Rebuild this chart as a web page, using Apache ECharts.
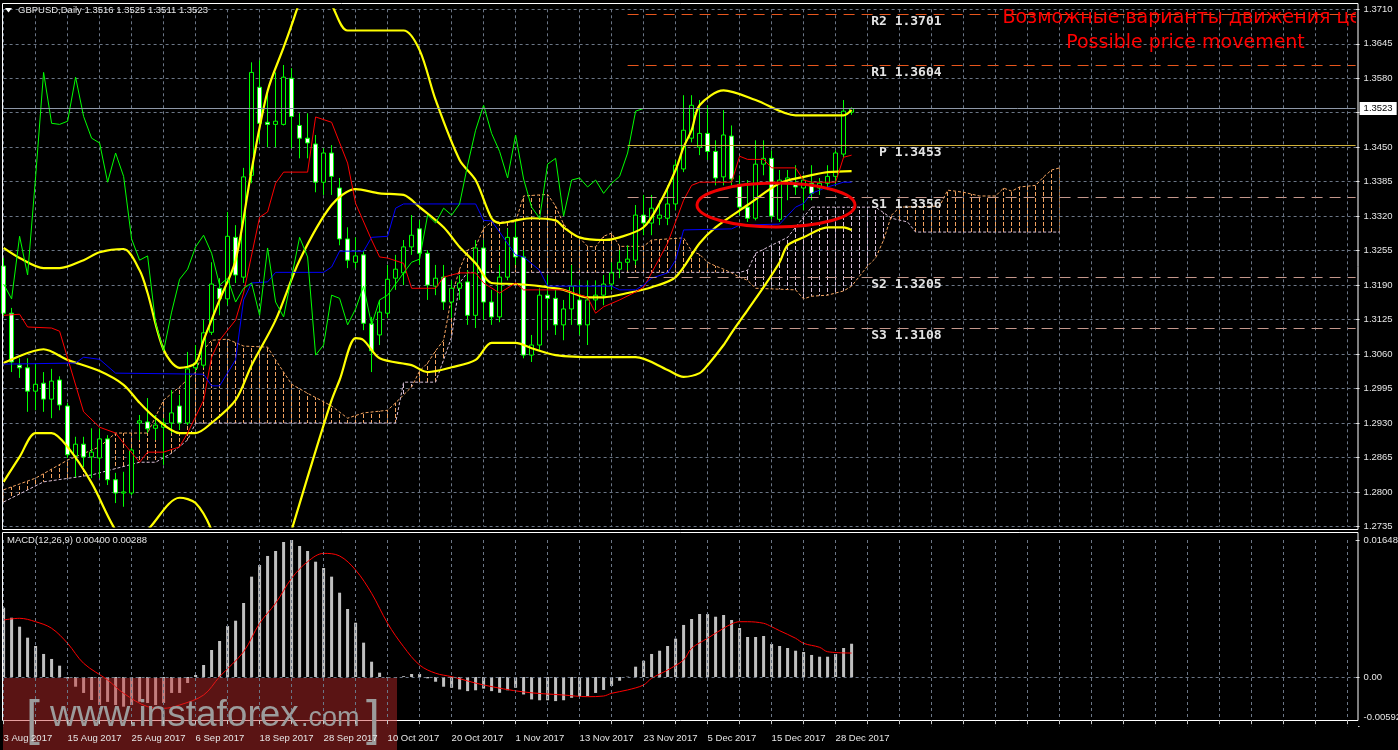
<!DOCTYPE html>
<html>
<head>
<meta charset="utf-8">
<title>GBPUSD Daily</title>
<script src="https://cdn.jsdelivr.net/npm/echarts@6.0.0/dist/echarts.min.js"></script>
<style>
html,body{margin:0;padding:0;background:#000;overflow:hidden;}
#chart{width:1398px;height:750px;}
</style>
</head>
<body>
<div id="chart"></div>
<script>
// ===================== DATA =====================
const HEADER_TEXT = 'GBPUSD,Daily 1.3516 1.3525 1.3511 1.3523';
const MACD_TEXT = 'MACD(12,26,9) 0.00400 0.00288';
const TITLE_RU = 'Возможные варианты движения цен';
const TITLE_EN = 'Possible price movement';

const TICK_LABELS = ['3 Aug 2017','15 Aug 2017','25 Aug 2017','6 Sep 2017','18 Sep 2017','28 Sep 2017',
  '10 Oct 2017','20 Oct 2017','1 Nov 2017','13 Nov 2017','23 Nov 2017','5 Dec 2017','15 Dec 2017','28 Dec 2017'];

const OPEN = [
1.3226,1.3137,1.3039,1.3034,1.2990,1.3005,1.2975,1.3011,1.2962,1.2868,
1.2890,1.2866,1.2864,1.2900,1.2823,1.2798,1.2798,1.2930,1.2932,1.2920,
1.2922,1.2930,1.2962,1.2930,1.3034,1.3039,1.3101,1.3184,1.3164,1.3280,
1.3205,1.3397,1.3563,1.3497,1.3493,1.3493,1.3580,1.3491,1.3467,1.3456,
1.3384,1.3439,1.3373,1.3277,1.3233,1.3247,1.3117,1.3096,1.3137,1.3203,
1.3213,1.3262,1.3296,1.3250,1.3188,1.3205,1.3158,1.3184,1.3196,1.3133,
1.3260,1.3158,1.3130,1.3205,1.3280,1.3243,1.3058,1.3077,1.3171,1.3165,
1.3115,1.3145,1.3162,1.3115,1.3162,1.3171,1.3192,1.3220,1.3233,1.3237,
1.3322,1.3307,1.3316,1.3316,1.3343,1.3409,1.3467,1.3450,1.3476,1.3442,
1.3394,1.3471,1.3380,1.3337,1.3316,1.3418,1.3429,1.3314,1.3388,1.3382,
1.3373,1.3382,1.3373,1.3382,1.3395,1.3437,1.3516];
const CLOSE = [
1.3137,1.3045,1.3034,1.2990,1.3003,1.2975,1.3009,1.2964,1.2870,1.2890,
1.2866,1.2875,1.2900,1.2823,1.2798,1.2800,1.2879,1.2934,1.2919,1.2926,
1.2930,1.2949,1.2930,1.3032,1.3043,1.3100,1.3192,1.3164,1.3282,1.3209,
1.3394,1.3591,1.3495,1.3493,1.3499,1.3582,1.3508,1.3467,1.3458,1.3384,
1.3439,1.3395,1.3277,1.3237,1.3245,1.3118,1.3066,1.3139,1.3201,1.3220,
1.3262,1.3284,1.3250,1.3190,1.3203,1.3158,1.3184,1.3194,1.3133,1.3260,
1.3158,1.3130,1.3205,1.3280,1.3243,1.3058,1.3077,1.3171,1.3165,1.3115,
1.3145,1.3188,1.3115,1.3162,1.3171,1.3192,1.3213,1.3233,1.3239,1.3322,
1.3307,1.3335,1.3322,1.3343,1.3416,1.3482,1.3529,1.3476,1.3442,1.3392,
1.3473,1.3390,1.3337,1.3316,1.3418,1.3429,1.3320,1.3388,1.3392,1.3375,
1.3388,1.3363,1.3382,1.3395,1.3439,1.3518,1.3523];
const LOW = [
1.3132,1.3026,1.3015,1.2951,1.2954,1.2951,1.2939,1.2954,1.2864,1.2828,
1.2847,1.2826,1.2826,1.2813,1.2779,1.2772,1.2794,1.2898,1.2911,1.2898,
1.2851,1.2911,1.2917,1.2926,1.3026,1.3034,1.3096,1.3133,1.3152,1.3194,
1.3194,1.3382,1.3459,1.3450,1.3450,1.3491,1.3448,1.3429,1.3429,1.3365,
1.3360,1.3360,1.3265,1.3222,1.3222,1.3105,1.3026,1.3077,1.3128,1.3181,
1.3190,1.3247,1.3228,1.3162,1.3171,1.3143,1.3128,1.3162,1.3115,1.3109,
1.3124,1.3115,1.3120,1.3199,1.3228,1.3052,1.3045,1.3068,1.3105,1.3096,
1.3086,1.3115,1.3096,1.3077,1.3143,1.3152,1.3181,1.3203,1.3218,1.3228,
1.3284,1.3284,1.3303,1.3303,1.3331,1.3403,1.3459,1.3435,1.3426,1.3378,
1.3378,1.3378,1.3322,1.3309,1.3312,1.3397,1.3314,1.3309,1.3350,1.3360,
1.3331,1.3350,1.3360,1.3369,1.3378,1.3431,1.3511];
const HIGH = [
1.3241,1.3147,1.3052,1.3052,1.3043,1.3026,1.3032,1.3018,1.2968,1.2904,
1.2904,1.2920,1.2920,1.2907,1.2836,1.2838,1.2883,1.2945,1.2977,1.2945,
1.2939,1.2992,1.2983,1.3064,1.3077,1.3124,1.3233,1.3203,1.3328,1.3303,
1.3411,1.3610,1.3614,1.3552,1.3591,1.3605,1.3599,1.3514,1.3514,1.3473,
1.3448,1.3454,1.3392,1.3299,1.3280,1.3256,1.3130,1.3162,1.3228,1.3247,
1.3275,1.3322,1.3312,1.3256,1.3228,1.3228,1.3199,1.3209,1.3218,1.3275,
1.3275,1.3181,1.3228,1.3297,1.3309,1.3256,1.3096,1.3184,1.3209,1.3181,
1.3162,1.3228,1.3199,1.3199,1.3199,1.3209,1.3233,1.3256,1.3265,1.3341,
1.3360,1.3360,1.3350,1.3378,1.3426,1.3548,1.3548,1.3539,1.3529,1.3463,
1.3520,1.3491,1.3397,1.3388,1.3463,1.3463,1.3444,1.3407,1.3407,1.3416,
1.3397,1.3416,1.3392,1.3416,1.3444,1.3539,1.3525];

// indicator lines, read as [bar index, price] vertices
const BB_UPPER = [[0,1.3260],[2,1.3241],[5,1.3222],[7,1.3222],[10,1.3237],[12,1.3252],[15,1.3258],[17,1.3218],[18,1.3175],[20,1.3068],[22,1.3034],[24,1.3043],[25,1.3086],[27,1.3162],[29,1.3237],[31,1.3407],[33,1.3556],[35,1.3638],[36,1.3680],[37,1.3723],[38,1.3750],[39,1.3757],[40,1.3738],[41,1.3718],[43,1.3670],[47,1.3670],[50,1.3670],[52,1.3633],[54,1.3539],[57,1.3426],[59,1.3388],[61,1.3316],[62,1.3307],[64,1.3312],[66,1.3316],[69,1.3312],[70,1.3299],[72,1.3280],[75,1.3275],[77,1.3280],[80,1.3299],[82,1.3344],[84,1.3407],[85,1.3450],[86,1.3482],[87,1.3529],[90,1.3557],[94,1.3539],[99,1.3510],[105,1.3510],[106,1.3520]];
const BB_MIDDLE = [[0,1.3043],[5,1.3069],[8,1.3049],[12,1.3028],[15,1.3002],[17,1.2968],[19,1.2939],[22,1.2911],[24,1.2911],[26,1.2930],[29,1.2973],[31,1.3039],[34,1.3124],[37,1.3237],[41,1.3341],[44,1.3371],[47,1.3363],[50,1.3360],[52,1.3337],[55,1.3299],[57,1.3262],[59,1.3231],[61,1.3194],[64,1.3192],[67,1.3188],[70,1.3181],[73,1.3167],[75,1.3167],[78,1.3175],[81,1.3186],[84,1.3205],[87,1.3269],[89,1.3299],[93,1.3341],[97,1.3382],[100,1.3394],[103,1.3403],[106,1.3405]];
const BB_LOWER = [[0,1.2819],[2,1.2866],[4,1.2911],[6,1.2911],[8,1.2885],[11,1.2817],[14,1.2728],[16,1.2700],[18,1.2728],[22,1.2789],[24,1.2779],[26,1.2728],[28,1.2634],[31,1.2559],[34,1.2634],[36,1.2728],[38,1.2828],[41,1.2973],[42,1.3011],[44,1.3090],[45,1.3086],[47,1.3052],[51,1.3039],[53,1.3026],[56,1.3035],[59,1.3049],[61,1.3081],[64,1.3081],[66,1.3071],[69,1.3058],[74,1.3054],[79,1.3054],[83,1.3030],[85,1.3017],[87,1.3024],[88,1.3039],[90,1.3077],[91,1.3100],[93,1.3143],[95,1.3186],[97,1.3233],[98,1.3265],[100,1.3280],[103,1.3299],[105,1.3299],[106,1.3294]];
const TENKAN = [[0,1.3133],[2,1.3135],[3,1.3111],[6,1.3109],[7,1.3103],[10,1.2951],[12,1.2922],[14,1.2911],[15,1.2892],[17,1.2856],[18,1.2875],[20,1.2875],[22,1.2885],[23,1.2911],[25,1.2973],[26,1.3054],[27,1.3086],[29,1.3124],[30,1.3175],[32,1.3318],[33,1.3328],[34,1.3382],[35,1.3403],[38,1.3403],[39,1.3507],[41,1.3497],[43,1.3420],[44,1.3344],[46,1.3275],[47,1.3243],[48,1.3241],[50,1.3231],[51,1.3184],[54,1.3184],[55,1.3205],[57,1.3213],[59,1.3213],[60,1.3194],[62,1.3175],[64,1.3194],[65,1.3181],[70,1.3181],[73,1.3167],[74,1.3137],[75,1.3149],[77,1.3162],[79,1.3177],[80,1.3186],[81,1.3213],[83,1.3269],[85,1.3350],[86,1.3378],[87,1.3384],[91,1.3384],[92,1.3433],[93,1.3427],[95,1.3427],[96,1.3411],[99,1.3411],[100,1.3388],[101,1.3384],[104,1.3384],[105,1.3431],[106,1.3435]];
const KIJUN = [[0,1.3041],[9,1.3043],[10,1.3054],[12,1.3050],[14,1.3024],[25,1.3022],[26,1.3000],[27,1.3000],[29,1.3049],[30,1.3162],[31,1.3194],[33,1.3196],[34,1.3214],[40,1.3214],[41,1.3224],[42,1.3254],[45,1.3254],[46,1.3280],[48,1.3282],[49,1.3335],[50,1.3343],[59,1.3343],[60,1.3312],[61,1.3311],[62,1.3290],[64,1.3247],[65,1.3243],[67,1.3218],[68,1.3188],[76,1.3188],[77,1.3181],[79,1.3181],[80,1.3190],[81,1.3203],[83,1.3213],[84,1.3237],[85,1.3294],[91,1.3296],[92,1.3303],[97,1.3305],[99,1.3337],[100,1.3344],[101,1.3363],[103,1.3375],[105,1.3384],[106,1.3384]];
const SENKOU_A = [[0,1.2804],[4,1.2826],[8,1.2860],[12,1.2885],[14,1.2911],[18,1.2911],[20,1.2973],[22,1.2998],[24,1.3026],[25,1.3068],[26,1.3086],[28,1.3088],[30,1.3075],[33,1.3073],[34,1.3049],[36,1.3003],[38,1.2986],[41,1.2962],[43,1.2939],[45,1.2949],[48,1.2954],[49,1.2968],[50,1.2983],[51,1.2998],[52,1.3028],[53,1.3043],[54,1.3066],[55,1.3086],[56,1.3169],[57,1.3220],[58,1.3256],[59,1.3262],[60,1.3297],[61,1.3309],[64,1.3309],[65,1.3358],[68,1.3361],[69,1.3339],[70,1.3305],[71,1.3286],[72,1.3279],[73,1.3263],[74,1.3262],[75,1.3282],[76,1.3288],[77,1.3263],[80,1.3263],[81,1.3275],[85,1.3279],[86,1.3254],[87,1.3248],[88,1.3233],[89,1.3226],[90,1.3220],[91,1.3213],[92,1.3205],[93,1.3199],[94,1.3184],[99,1.3181],[100,1.3164],[101,1.3169],[103,1.3171],[104,1.3175],[105,1.3179],[106,1.3188],[107,1.3207],[108,1.3226],[109,1.3241],[110,1.3275],[111,1.3322],[112,1.3337],[117,1.3339],[118,1.3369],[120,1.3365],[122,1.3358],[124,1.3358],[125,1.3373],[126,1.3367],[127,1.3375],[129,1.3378],[130,1.3394],[131,1.3407],[132,1.3411]];
const SENKOU_B = [[0,1.2781],[5,1.2819],[11,1.2832],[17,1.2856],[19,1.2856],[21,1.2873],[23,1.2898],[24,1.2930],[49,1.2930],[50,1.3007],[54,1.3007],[55,1.3049],[56,1.3092],[57,1.3194],[58,1.3214],[92,1.3214],[93,1.3218],[94,1.3250],[98,1.3280],[99,1.3299],[101,1.3337],[109,1.3337],[111,1.3316],[113,1.3309],[114,1.3290],[132,1.3290]];
const CHIKOU_SHIFT = 26;   // chikou span = close drawn 26 bars back

const MACD_MAIN = [
0.00834,0.00713,0.00605,0.00473,0.00373,0.00277,0.00217,0.00136,-0.0002,-0.00117,
-0.00192,-0.00277,-0.00337,-0.0030,-0.00337,-0.00357,-0.00337,-0.00297,-0.00313,-0.00337,
-0.00313,-0.00192,-0.00192,-0.00072,0.00024,0.00144,0.00325,0.00433,0.00613,0.00677,
0.00890,0.01207,0.01347,0.01456,0.01516,0.01624,0.01648,0.01576,0.01516,0.01387,
0.01311,0.01207,0.01014,0.00818,0.00653,0.00413,0.00184,0.00052,-0.0001,-0.0001,
0.0001,0.00036,0.00036,-0.00016,-0.00057,-0.00117,-0.0013,-0.0015,-0.0017,-0.0016,
-0.0014,-0.0017,-0.0019,-0.0016,-0.0013,-0.0021,-0.0027,-0.0028,-0.0028,-0.0029,
-0.0028,-0.0025,-0.00229,-0.00229,-0.00192,-0.00156,-0.00108,-0.00045,0.00004,0.00124,
0.00196,0.00277,0.00316,0.00373,0.00461,0.00626,0.00698,0.00758,0.00758,0.00725,
0.00746,0.00686,0.00589,0.00481,0.00481,0.00493,0.00397,0.00373,0.00349,0.00316,
0.00301,0.00265,0.00244,0.00244,0.00277,0.00349,0.00400];
const MACD_SIGNAL = [[0,0.00686],[2,0.00706],[4,0.00665],[6,0.00586],[8,0.00405],[10,0.00165],[13,-0.00036],[15,-0.00196],[18,-0.00357],[20,-0.00377],[22,-0.00337],[25,-0.00217],[27,0.00004],[30,0.00304],[32,0.00646],[34,0.00887],[36,0.01187],[38,0.01387],[40,0.01487],[42,0.01456],[44,0.01287],[46,0.01007],[48,0.00646],[50,0.00364],[52,0.00144],[54,0.00045],[56,0.00004],[60,-0.00096],[65,-0.00180],[70,-0.00217],[73,-0.00237],[75,-0.00229],[76,-0.00196],[78,-0.00156],[80,-0.00096],[81,-0.00016],[83,0.00084],[85,0.00205],[86,0.00345],[88,0.00466],[90,0.00586],[91,0.00638],[92,0.00665],[93,0.00665],[95,0.00646],[96,0.00605],[97,0.00557],[99,0.00466],[100,0.00405],[102,0.00357],[103,0.00304],[106,0.00288]];

const PRICE_MIN = 1.2735, PRICE_MAX = 1.3710, PRICE_STEP = 0.0065;
const MACD_MIN = -0.00592, MACD_MAX = 0.01648;
const MACD_AXIS_VALUES = [-0.00592, 0, 0.01648];
const LAST_PRICE = 1.3523;
const PIVOTS = [
  {name:'R2', value:1.3701},{name:'R1', value:1.3604},{name:'P', value:1.3453},
  {name:'S1', value:1.3356},{name:'S2', value:1.3205},{name:'S3', value:1.3108}];
const PIVOT_FROM = 78;

// ===================== CHART =====================
const N_SLOTS = 170;
const cats = Array.from({length:N_SLOTS}, (_, i) => String(i));
const FONT = 'Liberation Sans';
const GRID_COLOR = '#6b7686';
const PIVOT_STYLE = {
  R2:{color:'#e8561c', type:[11,7]}, R1:{color:'#e8561c', type:[11,7]},
  P:{color:'#d2b23a', type:'solid'},
  S1:{color:'#c4978b', type:[11,7]}, S2:{color:'#c4978b', type:[11,7]}, S3:{color:'#c4978b', type:[11,7]}
};

function hatch(color){
  const c = document.createElement('canvas'); c.width = 8; c.height = 6;
  const g = c.getContext('2d'); g.fillStyle = color; g.fillRect(3, 0, 1, 4);
  return {image: c, repeat: 'repeat'};
}
const HATCH_A = hatch('#f4a460'), HATCH_B = hatch('#d8bfd8');

const candleData = OPEN.map((o, i) => [o, CLOSE[i], LOW[i], HIGH[i]]);
const chikou = CLOSE.slice(CHIKOU_SHIFT).map((v, i) => [i, v]);

function cloudItem(params, api){
  const pa = SENKOU_A.map(p => api.coord(p));
  const pb = SENKOU_B.map(p => api.coord(p));
  const at = (poly, x) => {
    if (x <= poly[0][0]) return poly[0][1];
    for (let k = 0; k < poly.length - 1; k++) {
      const a = poly[k], b = poly[k+1];
      if (x >= a[0] && x <= b[0]) return b[0] === a[0] ? a[1] : a[1] + (b[1]-a[1])*(x-a[0])/(b[0]-a[0]);
    }
    return poly[poly.length-1][1];
  };
  const xs = Array.from(new Set(pa.map(p=>p[0]).concat(pb.map(p=>p[0])))).sort((a,b)=>a-b);
  const X = [];
  for (let k = 0; k < xs.length; k++) {
    X.push(xs[k]);
    if (k < xs.length - 1) {
      const d0 = at(pa, xs[k]) - at(pb, xs[k]), d1 = at(pa, xs[k+1]) - at(pb, xs[k+1]);
      if (d0 * d1 < 0) X.push(xs[k] + (xs[k+1]-xs[k]) * d0 / (d0 - d1));
    }
  }
  const ya = X.map(x => at(pa, x)), yb = X.map(x => at(pb, x));
  const lo = X.map((x, k) => Math.max(ya[k], yb[k]));
  const polyA = X.map((x,k)=>[x, ya[k]]).concat(X.map((x,k)=>[x, lo[k]]).reverse());
  const polyB = X.map((x,k)=>[x, yb[k]]).concat(X.map((x,k)=>[x, lo[k]]).reverse());
  return {type:'group', children:[
    {type:'polygon', shape:{points:polyA}, style:{fill:HATCH_A, stroke:null}},
    {type:'polygon', shape:{points:polyB}, style:{fill:HATCH_B, stroke:null}}
  ]};
}

function txt(text, x, y, font, color, align, valign, z){
  return {type:'text', x:x, y:y, z:z||20, silent:true,
    style:{text:text, font:font, fill:color, align:align||'left', textAlign:align||'left',
           verticalAlign:valign||'middle', textVerticalAlign:valign||'middle'}};
}

const xCommon = (gridIndex) => ({
  type:'category', gridIndex:gridIndex, data:cats, boundaryGap:false,
  axisLine:{show:false, onZero:false}, axisTick:{show:false}, axisLabel:{show:false},
  splitLine:{show:true, interval:(i)=> i % 4 === 0, lineStyle:{color:GRID_COLOR, type:[3,3], width:1}}
});

const xMacd = xCommon(1);
xMacd.z = 70;
xMacd.offset = -6;
xMacd.axisTick = {show:true, interval:(i)=> i % 4 === 0, length:4, lineStyle:{color:'#c8c8c8'}};
xMacd.axisLabel = {show:true, interval:(i)=> i % 8 === 0 && i / 8 < TICK_LABELS.length,
  formatter:(v, i)=> TICK_LABELS[Math.round(Number(v) / 8)] || '', align:'left', margin:13,
  color:'#e6e6e6', fontSize:9.5, fontFamily:FONT};

const chart = echarts.init(document.getElementById('chart'), null, {renderer:'canvas'});

const option = {
  backgroundColor:'#000',
  animation:false,
  textStyle:{fontFamily:FONT},
  grid:[
    {left:3.6, top:9.3, width:1352, height:517.1, outerBoundsMode:'none', containLabel:false},
    {left:3.6, top:540, width:1352, height:186.2, outerBoundsMode:'none', containLabel:false}
  ],
  xAxis:[xCommon(0), xMacd],
  yAxis:[
    {type:'value', gridIndex:0, position:'right', min:PRICE_MIN, max:PRICE_MAX, interval:PRICE_STEP,
     axisLine:{show:false}, axisTick:{show:true, length:4, lineStyle:{color:'#cfcfcf'}},
     axisLabel:{color:'#e6e6e6', fontSize:9.5, fontFamily:FONT, margin:8, showMinLabel:true, showMaxLabel:true,
       formatter:(v)=> v.toFixed(4)},
     splitLine:{show:true, lineStyle:{color:GRID_COLOR, type:[3,3], width:1}}},
    {type:'value', gridIndex:1, position:'right', min:MACD_MIN, max:MACD_MAX,
     axisLine:{show:false},
     axisTick:{show:true, length:4, customValues:MACD_AXIS_VALUES, lineStyle:{color:'#cfcfcf'}},
     axisLabel:{customValues:MACD_AXIS_VALUES, color:'#e6e6e6', fontSize:9.5, fontFamily:FONT, margin:8,
       showMinLabel:true, showMaxLabel:true,
       formatter:(v)=> Math.abs(v) < 1e-9 ? '0.00' : (v < 0 ? '{lo|' + v.toFixed(5) + '}' : v.toFixed(5)),
       rich:{lo:{color:'#e6e6e6', fontSize:9.5, fontFamily:FONT, padding:[0,0,18,0]}}},
     splitLine:{show:false}}
  ],
  series:[
    {type:'custom', name:'cloud', xAxisIndex:0, yAxisIndex:0, z:1, silent:true, clip:true,
     data:[[0, PRICE_MIN]], renderItem:cloudItem},
    {type:'line', name:'Senkou A', xAxisIndex:0, yAxisIndex:0, z:2, data:SENKOU_A, symbol:'none', silent:true,
     lineStyle:{color:'#f4a460', width:1, type:[3,2]}},
    {type:'line', name:'Senkou B', xAxisIndex:0, yAxisIndex:0, z:2, data:SENKOU_B, symbol:'none', silent:true,
     lineStyle:{color:'#d8bfd8', width:1, type:[3,2]}},
    {type:'candlestick', name:'GBPUSD', xAxisIndex:0, yAxisIndex:0, z:3, data:candleData, barWidth:5, silent:true,
     itemStyle:{color:'#000', color0:'#fff', borderColor:'#00ff00', borderColor0:'#00ff00', borderWidth:1},
     markLine:{silent:true, symbol:['none','none'], animation:false, precision:5, label:{show:false},
       data: PIVOTS.map(p => [
         {coord:[PIVOT_FROM, p.value], lineStyle:{color:PIVOT_STYLE[p.name].color, type:PIVOT_STYLE[p.name].type, width:1}},
         {coord:[N_SLOTS - 1, p.value]}
       ]).concat([[
         {coord:[0, LAST_PRICE], lineStyle:{color:'#8e98a8', type:'solid', width:1},
          label:{show:true, position:'end', distance:4, formatter:LAST_PRICE.toFixed(4),
            backgroundColor:'#fff', color:'#000', padding:[2,4,1,4], fontSize:9.5, fontFamily:FONT}},
         {coord:[N_SLOTS - 1, LAST_PRICE]}
       ]])}},
    {type:'line', name:'BB upper', xAxisIndex:0, yAxisIndex:0, z:4, data:BB_UPPER, symbol:'none', smooth:0.3, silent:true,
     lineStyle:{color:'#ffff00', width:2.2}},
    {type:'line', name:'BB middle', xAxisIndex:0, yAxisIndex:0, z:4, data:BB_MIDDLE, symbol:'none', smooth:0.3, silent:true,
     lineStyle:{color:'#ffff00', width:2.2}},
    {type:'line', name:'BB lower', xAxisIndex:0, yAxisIndex:0, z:4, data:BB_LOWER, symbol:'none', smooth:0.3, silent:true,
     lineStyle:{color:'#ffff00', width:2.2}},
    {type:'line', name:'Tenkan', xAxisIndex:0, yAxisIndex:0, z:4, data:TENKAN, symbol:'none', silent:true,
     lineStyle:{color:'#ff0000', width:1}},
    {type:'line', name:'Kijun', xAxisIndex:0, yAxisIndex:0, z:4, data:KIJUN, symbol:'none', silent:true,
     lineStyle:{color:'#0000ff', width:1}},
    {type:'line', name:'Chikou', xAxisIndex:0, yAxisIndex:0, z:4, data:chikou, symbol:'none', silent:true,
     lineStyle:{color:'#00ff00', width:1}},
    {type:'custom', name:'note', xAxisIndex:0, yAxisIndex:0, z:6, silent:true, clip:true,
     data:[[0, PRICE_MIN]],
     renderItem:()=>({type:'group', children:[
       {type:'text', x:1188, y:18, style:{text:TITLE_RU, font:'19px "DejaVu Sans"', fill:'#ff0000',
         align:'center', textAlign:'center', verticalAlign:'middle', textVerticalAlign:'middle'}},
       {type:'text', x:1185.5, y:43, style:{text:TITLE_EN, font:'19px "DejaVu Sans"', fill:'#ff0000',
         align:'center', textAlign:'center', verticalAlign:'middle', textVerticalAlign:'middle'}}
     ]})},
    {type:'bar', name:'MACD', xAxisIndex:1, yAxisIndex:1, z:2, data:MACD_MAIN, barWidth:3, silent:true,
     itemStyle:{color:'#c0c0c0'},
     markLine:{silent:true, symbol:['none','none'], label:{show:false},
       data:[{yAxis:0, lineStyle:{color:GRID_COLOR, type:[3,3], width:1}}]}},
    {type:'line', name:'Signal', xAxisIndex:1, yAxisIndex:1, z:3, data:MACD_SIGNAL, symbol:'none', smooth:0.35, silent:true,
     lineStyle:{color:'#ff0000', width:1}}
  ]
};
chart.setOption(option);

// ---------- overlays: frames, titles, pivot labels, ellipse, watermark ----------
const pivotLabels = PIVOTS.map(p => {
  const pt = chart.convertToPixel({xAxisIndex:0, yAxisIndex:0}, [117, p.value]);
  return txt(p.name + ' ' + p.value.toFixed(4), pt[0] + 2, pt[1] + 7.5, 'bold 13px "DejaVu Sans Mono"', '#e4e4e4', 'right', 'middle', 25);
});

chart.setOption({
  graphic:[
    {type:'rect', z:40, silent:true, shape:{x:0, y:720.5, width:1358, height:7}, style:{fill:'#000'}},
    {type:'rect', z:50, silent:true, shape:{x:2.5, y:3.5, width:1355.5, height:526}, style:{fill:'rgba(0,0,0,0)', stroke:'#ffffff', lineWidth:1}},
    {type:'rect', z:50, silent:true, shape:{x:2.5, y:532.5, width:1355.5, height:188}, style:{fill:'rgba(0,0,0,0)', stroke:'#ffffff', lineWidth:1}},
    {type:'polygon', z:50, silent:true, shape:{points:[[5,8],[12,8],[8.5,12.5]]}, style:{fill:'#ffffff'}},
    txt(HEADER_TEXT, 18, 10.7, '9.5px "' + FONT + '"', '#e6e6e6', 'left', 'middle', 50),
    txt(MACD_TEXT, 7, 540.7, '9.5px "' + FONT + '"', '#e6e6e6', 'left', 'middle', 50),
    {type:'ellipse', z:30, silent:true, shape:{cx:776, cy:205, rx:79, ry:22},
     style:{fill:'rgba(0,0,0,0)', stroke:'#f00000', lineWidth:3}},
    {type:'rect', z:60, silent:true, shape:{x:3, y:678, width:394, height:72}, style:{fill:'rgba(200,45,45,0.45)'}},
    txt('[', 26, 721, '50px "' + FONT + '"', '#9c9c9c', 'left', 'middle', 61),
    txt('www.instaforex', 50, 716, '37px "' + FONT + '"', '#9c9c9c', 'left', 'middle', 61),
    txt('.com', 301, 719, '27px "' + FONT + '"', '#9c9c9c', 'left', 'middle', 61),
    txt(']', 366, 721, '50px "' + FONT + '"', '#9c9c9c', 'left', 'middle', 61)
  ].concat(pivotLabels)
});
</script>
</body>
</html>
